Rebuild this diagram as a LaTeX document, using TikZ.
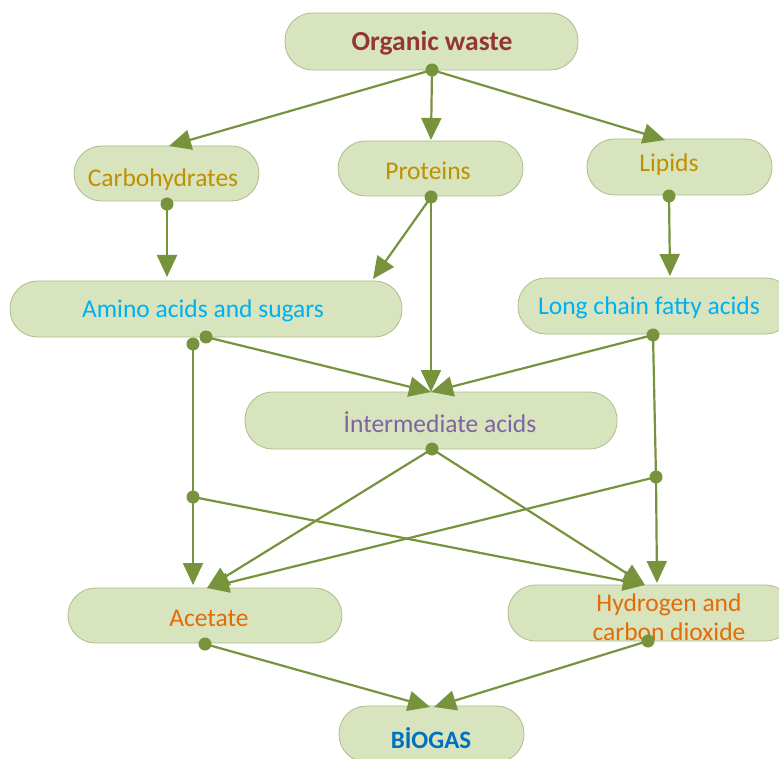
\documentclass[tikz,border=0pt]{standalone}
\usepackage{fontspec}
\setmainfont{Carlito}
\usetikzlibrary{arrows.meta}
\definecolor{boxfill}{HTML}{D7E4BD}
\definecolor{boxline}{HTML}{AEBD8C}
\definecolor{conn}{HTML}{77933C}
\definecolor{cred}{HTML}{943634}
\definecolor{cgold}{HTML}{BF9000}
\definecolor{cblue}{HTML}{00B0F0}
\definecolor{cpurple}{HTML}{8064A2}
\definecolor{corange}{HTML}{E36C09}
\definecolor{cdblue}{HTML}{0070C0}
\tikzset{
  pill/.style={draw=boxline, fill=boxfill, line width=0.8pt, rectangle, rounded corners=27.5pt, inner sep=0pt, minimum height=56pt},
  lbl/.style={font=\fontsize{25.5}{29}\selectfont, align=center, inner sep=0pt},
  flowa/.style={draw=conn, line width=2.2pt, -{Triangle[length=22pt,width=20pt]}},
  flowp/.style={draw=conn, line width=2.2pt},
  dotc/.style={fill=conn, circle, inner sep=0pt, minimum size=13pt}
}
\begin{document}
\begin{tikzpicture}[x=1pt,y=-1pt]
\clip (0,0) rectangle (779,759);
\fill[white] (0,0) rectangle (779,759);
% boxes
\node[pill, minimum width=293pt, minimum height=57pt] (ow) at (431.5,41.5) {};
\node[lbl, font=\fontsize{27.5}{32}\selectfont\bfseries, text=cred] (owt) at (432,43) {Organic waste};
\node[pill, minimum width=185pt, minimum height=55pt] (carb) at (166.5,173.5) {};
\node[lbl, text=cgold] (carbt) at (163,180) {Carbohydrates};
\node[pill, minimum width=185pt, minimum height=55pt] (prot) at (430.5,168.5) {};
\node[lbl, text=cgold] (prott) at (428,171) {Proteins};
\node[pill, minimum width=185pt, minimum height=56pt] (lip) at (679.5,167) {};
\node[lbl, text=cgold] (lipt) at (669,165) {Lipids};
\node[pill, minimum width=392pt, minimum height=56pt] (amino) at (206,309) {};
\node[lbl, text=cblue] (aminot) at (203,311) {Amino acids and sugars};
\node[pill, minimum width=275pt, minimum height=56pt] (lcfa) at (655.5,306) {};
\node[lbl, text=cblue] (lcfat) at (649,308) {Long chain fatty acids};
\node[pill, minimum width=372pt, minimum height=57pt] (inter) at (431,420.5) {};
\node[lbl, text=cpurple] (intert) at (440,422) {İntermediate acids};
\node[pill, minimum width=274pt, minimum height=55pt] (acet) at (205,615.5) {};
\node[lbl, text=corange] (acett) at (209,618) {Acetate};
\node[pill, minimum width=285pt, minimum height=56pt] (h2) at (650.5,613) {};
\node[lbl, text=corange] (h2t) at (669,617) {Hydrogen and\\carbon dioxide};
\node[pill, minimum width=185pt, minimum height=56pt] (bio) at (431.5,734) {};
\node[lbl, font=\fontsize{25}{30}\selectfont\bfseries, text=cdblue] (biot) at (431,738) {BİOGAS};
% connector points
\coordinate (ow-s) at (432,70);
\coordinate (carb-n) at (169,146);
\coordinate (prot-n) at (431,140);
\coordinate (lip-n) at (665,140);
\coordinate (carb-s) at (167,204);
\coordinate (amino-nl) at (167,277);
\coordinate (prot-s) at (431,197);
\coordinate (amino-nr) at (373,279);
\coordinate (inter-n) at (431,392);
\coordinate (lip-s) at (669,196);
\coordinate (lcfa-n) at (670,276);
\coordinate (amino-s1) at (193,344);
\coordinate (amino-s2) at (206,337);
\coordinate (jl) at (193,497);
\coordinate (lcfa-s) at (653,335);
\coordinate (jr) at (656,477);
\coordinate (inter-s) at (432,449);
\coordinate (acet-n1) at (193,585);
\coordinate (acet-n2) at (207,588);
\coordinate (h2-n1) at (645,585);
\coordinate (h2-n2) at (657,583);
\coordinate (acet-s) at (205,644);
\coordinate (h2-s) at (648,641);
\coordinate (bio-n1) at (430,707);
\coordinate (bio-n2) at (434,707);
% connectors
\draw[flowa] (ow-s) -- (carb-n);
\draw[flowa] (ow-s) -- (prot-n);
\draw[flowa] (ow-s) -- (lip-n);
\draw[flowa] (carb-s) -- (amino-nl);
\draw[flowa] (prot-s) -- (amino-nr);
\draw[flowa] (prot-s) -- (inter-n);
\draw[flowa] (lip-s) -- (lcfa-n);
\draw[flowa] (amino-s2) -- (inter-n);
\draw[flowp] (amino-s1) -- (jl);
\draw[flowa] (jl) -- (acet-n1);
\draw[flowa] (jl) -- (h2-n1);
\draw[flowa] (lcfa-s) -- (inter-n);
\draw[flowp] (lcfa-s) -- (jr);
\draw[flowa] (jr) -- (h2-n2);
\draw[flowa] (jr) -- (acet-n2);
\draw[flowa] (inter-s) -- (acet-n2);
\draw[flowa] (inter-s) -- (h2-n1);
\draw[flowa] (acet-s) -- (bio-n1);
\draw[flowa] (h2-s) -- (bio-n2);
% dots
\foreach \p in {ow-s,carb-s,prot-s,lip-s,amino-s1,amino-s2,jl,lcfa-s,jr,inter-s,acet-s,h2-s}
  \node[dotc] (dot-\p) at (\p) {};
\end{tikzpicture}
\end{document}
